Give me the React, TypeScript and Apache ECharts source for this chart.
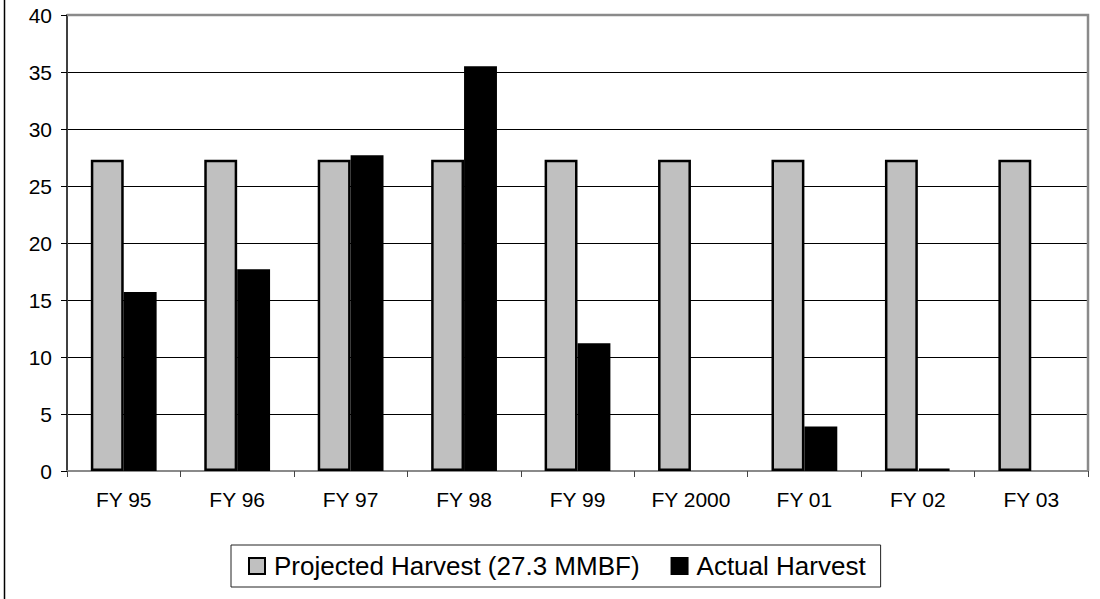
import React, { useEffect, useRef } from "react";
import * as echarts from "echarts";

// Fiscal years on the category axis
const fiscalYears = ["FY 95", "FY 96", "FY 97", "FY 98", "FY 99", "FY 2000", "FY 01", "FY 02", "FY 03"];

// Projected harvest is flat at 27.3 MMBF every year
const projectedHarvest = [27.3, 27.3, 27.3, 27.3, 27.3, 27.3, 27.3, 27.3, 27.3];

// Actual harvest (MMBF); null where no harvest bar is shown
const actualHarvest: (number | null)[] = [15.7, 17.7, 27.7, 35.5, 11.2, null, 3.9, 0.2, null];

const yTicks = { min: 0, max: 40, interval: 5 };

const FONT = "'Liberation Sans', Arial, sans-serif";

export default function App() {
  const ref = useRef<HTMLDivElement>(null);

  useEffect(() => {
    if (!ref.current) return;
    const chart = echarts.init(ref.current, null, { renderer: "svg" });
    chart.setOption({
      animation: false,
      backgroundColor: "#ffffff",
      textStyle: { fontFamily: FONT, color: "#000" },
      grid: { left: 67, right: 12, top: 15, bottom: 128, containLabel: false },
      graphic: [
        // outer frame edge on the left
        {
          type: "line",
          shape: { x1: 4.5, y1: 0, x2: 4.5, y2: 599 },
          style: { stroke: "#000", lineWidth: 1.5 },
          silent: true,
        },
        // plot-area border (top and right)
        {
          type: "polyline",
          shape: { points: [[67, 15], [1088, 15], [1088, 471]] },
          style: { stroke: "#8a8a8a", lineWidth: 2.5, fill: null },
          silent: true,
          z: 10,
        },
      ],
      legend: {
        left: 231,
        top: 545,
        orient: "horizontal",
        borderColor: "#222",
        borderWidth: 1,
        padding: [8, 15, 8, 17],
        itemWidth: 16,
        itemHeight: 16,
        itemGap: 31,
        icon: "rect",
        textStyle: { fontFamily: FONT, fontSize: 26, color: "#000", padding: [0, 0, 0, 4] },
        data: ["Projected Harvest (27.3 MMBF)", "Actual Harvest"],
      },
      xAxis: {
        type: "category",
        data: fiscalYears,
        boundaryGap: true,
        axisLine: { show: true, lineStyle: { color: "#8a8a8a", width: 2 } },
        axisTick: { show: true, inside: false, length: 6, alignWithLabel: false, lineStyle: { color: "#444", width: 1 } },
        axisLabel: { fontFamily: FONT, fontSize: 21, color: "#000", margin: 18 },
        splitLine: { show: false },
      },
      yAxis: {
        type: "value",
        min: yTicks.min,
        max: yTicks.max,
        interval: yTicks.interval,
        axisLine: { show: true, lineStyle: { color: "#404040", width: 2 } },
        axisTick: { show: true, inside: false, length: 6, lineStyle: { color: "#000", width: 1 } },
        axisLabel: { fontFamily: FONT, fontSize: 21, color: "#000", margin: 15 },
        splitLine: { show: true, lineStyle: { color: "#000", width: 1 } },
      },
      series: [
        {
          name: "Projected Harvest (27.3 MMBF)",
          type: "bar",
          data: projectedHarvest,
          barGap: "0%",
          barCategoryGap: "42%",
          itemStyle: { color: "#c0c0c0", borderColor: "#000", borderWidth: 2.5 },
        },
        {
          name: "Actual Harvest",
          type: "bar",
          data: actualHarvest,
          barGap: "0%",
          barCategoryGap: "42%",
          itemStyle: { color: "#000", borderColor: "#000", borderWidth: 2.5 },
        },
      ],
    });
    return () => chart.dispose();
  }, []);

  return (
    <div
      ref={ref}
      style={{ position: "fixed", left: 0, top: 0, width: 1100, height: 599, background: "#fff" }}
    />
  );
}
